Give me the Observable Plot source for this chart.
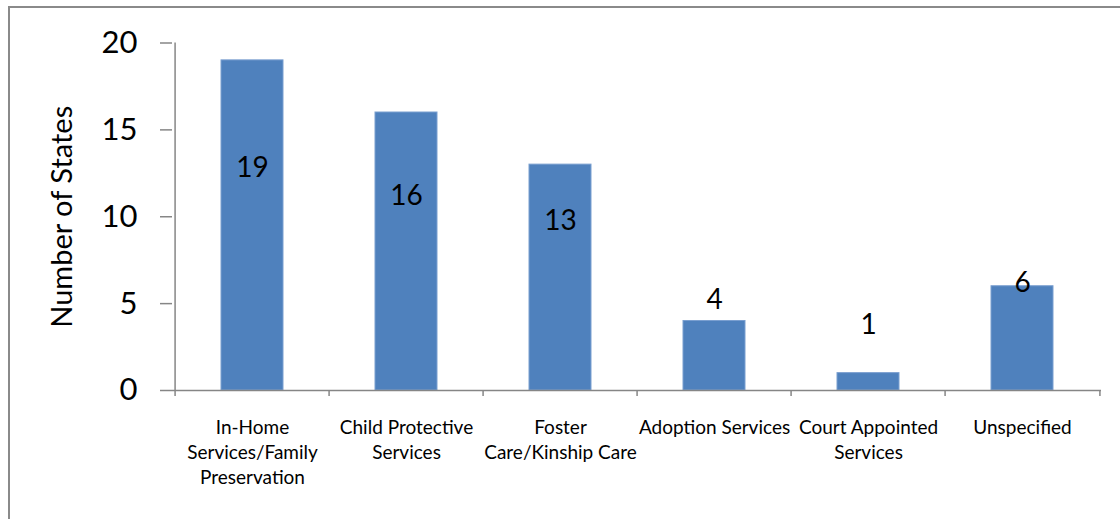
<!DOCTYPE html>
<html>
<head>
<meta charset="utf-8">
<script src="https://cdn.jsdelivr.net/npm/d3@7"></script>
<script src="https://cdn.jsdelivr.net/npm/@observablehq/plot@0.6"></script>
<style>
  html, body { margin: 0; padding: 0; background: #fff; }
  #wrap { position: relative; width: 1120px; height: 519px; overflow: hidden; }
  #border { position: absolute; left: 8px; top: 6px; width: 1200px; height: 600px;
            border-left: 2px solid #8a8a8a; border-top: 2px solid #8a8a8a; pointer-events: none; }
  svg { display: block; }
</style>
</head>
<body>
<div id="wrap"><div id="border"></div></div>
<script>
const categories = [
  "In-Home Services/Family Preservation",
  "Child Protective Services",
  "Foster Care/Kinship Care",
  "Adoption Services",
  "Court Appointed Services",
  "Unspecified"
];
const tickLabels = [
  "In-Home\nServices/Family\nPreservation",
  "Child Protective\nServices",
  "Foster\nCare/Kinship Care",
  "Adoption Services",
  "Court Appointed\nServices",
  "Unspecified"
];
const values = [19, 16, 13, 4, 1, 6];
// where each data label sits, in "Number of States" units (as placed in the original)
const labelAt = [12.83, 11.21, 9.77, 5.23, 3.79, 6.17];
const yTicks = [0, 5, 10, 15, 20];

const rows = categories.map((c, i) => ({cat: c, value: values[i], labelY: labelAt[i], tick: tickLabels[i]}));

const W = 1120, H = 519;
const mL = 172, mR = 19, mT = 42.5, mB = 129;
const step = (W - mL - mR) / categories.length;
const font = "Lato, 'Open Sans', sans-serif";
const gray = "#868686";

const chart = Plot.plot({
  width: W, height: H,
  marginLeft: mL, marginRight: mR, marginTop: mT, marginBottom: mB,
  style: {fontFamily: font, color: "#000", background: "transparent"},
  x: {domain: categories, paddingInner: 0.6, paddingOuter: 0.3, axis: null},
  y: {domain: [0, 20], axis: null},
  marks: [
    Plot.barY(rows, {x: "cat", y: "value", fill: "#4F81BD", stroke: "#7a9fd0", strokeWidth: 1}),
    // axis lines
    Plot.ruleY([0], {stroke: gray, strokeWidth: 1.5}),
    Plot.ruleX(rows.slice(0, 1), {x: "cat", dx: -step / 2, y1: () => 0, y2: () => 20, stroke: gray, strokeWidth: 1.5}),
    // category boundary ticks
    Plot.ruleX(rows, {x: "cat", dx: -step / 2, y1: () => 0, y2: () => 0, insetBottom: -6, stroke: gray, strokeWidth: 1.5}),
    Plot.ruleX(rows.slice(-1), {x: "cat", dx: step / 2, y1: () => 0, y2: () => 0, insetBottom: -6, stroke: gray, strokeWidth: 1.5}),
    Plot.axisY({ticks: yTicks, tickSize: 12, tickPadding: 23, fontSize: 31, stroke: gray, strokeWidth: 1.5, label: null, tickFormat: d => d}),
    Plot.axisX({tickSize: 0, tickPadding: 26, fontSize: 19, lineHeight: 1.32, label: null,
                tickFormat: d => tickLabels[categories.indexOf(d)]}),
    Plot.text(rows, {x: "cat", y: "labelY", text: d => String(d.value), fontSize: 28, fill: "#000", lineAnchor: "middle"}),
    Plot.text(["Number of States"], {frameAnchor: "left", dx: -110, rotate: -90, fontSize: 29, fill: "#000", lineAnchor: "middle", textAnchor: "middle"})
  ]
});
document.getElementById("wrap").prepend(chart);
</script>
</body>
</html>
